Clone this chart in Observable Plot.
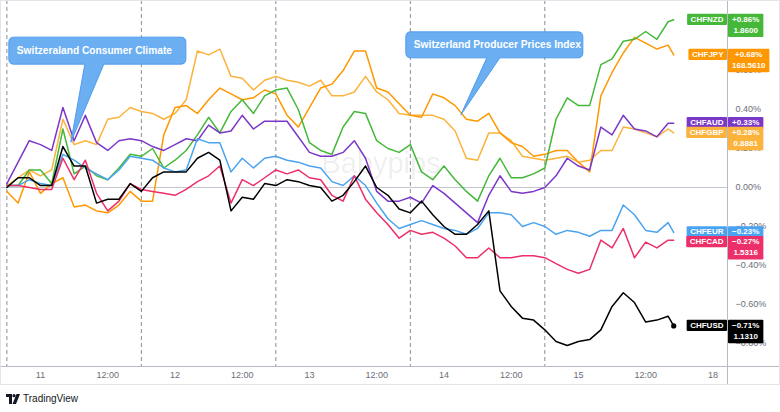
<!DOCTYPE html>
<html><head><meta charset="utf-8">
<script src="https://cdn.jsdelivr.net/npm/d3@7"></script>
<script src="https://cdn.jsdelivr.net/npm/@observablehq/plot@0.6"></script>
<style>
body{margin:0;background:#fff;font-family:"Liberation Sans",Arial,sans-serif;}
#chart{width:780px;height:385px;}
#footer{height:27px;display:flex;align-items:center;padding-left:6px;font-size:10px;color:#131722;}
#footer svg{margin-right:3px;}
</style></head><body>
<div id="chart"></div>
<div id="footer"><svg width="14" height="10" viewBox="0 0 14 10"><path d="M0 0h6v10H3V3H0z" fill="#131722"/><circle cx="8" cy="1.7" r="1.6" fill="#131722"/><path d="M10.5 0h3.5l-4 10H6.5z" fill="#131722"/></svg>TradingView</div>
<script>
// hours since 11th 00:00 (weekend compressed: "18" drawn at 120)
const hours = [-6,-4,-2,0,2,4,6,8,10,12,14,16,18,20,22,24,26,28,30,32,34,36,38,40,42,44,46,48,50,52,54,56,58,60,62,64,66,68,70,72,74,76,78,80,82,84,86,88,90,92,94,96,98,100,102,104,106,108,110,112,113];

const CHFGBP = [0.01,0.05,0.09,0.06,0.09,0.35,0.22,0.24,0.22,0.35,
 0.36,0.41,0.39,0.38,0.35,0.38,0.45,0.70,0.68,0.71,
 0.57,0.56,0.50,0.55,0.57,0.55,0.54,0.52,0.55,0.47,
 0.47,0.49,0.57,0.49,0.45,0.38,0.37,0.37,0.37,0.35,
 0.29,0.15,0.14,0.28,0.28,0.24,0.16,0.15,0.14,0.15,
 0.16,0.13,0.14,0.19,0.19,0.31,0.30,0.28,0.26,0.30,0.28];
const CHFJPY = [-0.02,-0.08,0.08,-0.03,0.02,0.05,-0.10,-0.09,-0.12,-0.13,
 -0.09,-0.02,-0.07,-0.07,0.27,0.41,0.42,0.38,0.45,0.51,
 0.48,0.45,0.46,0.50,0.48,0.37,0.31,0.41,0.51,0.53,
 0.60,0.70,0.70,0.51,0.49,0.43,0.37,0.36,0.48,0.46,
 0.42,0.35,0.34,0.38,0.28,0.23,0.21,0.16,0.17,0.19,
 0.19,0.13,0.08,0.47,0.59,0.69,0.77,0.74,0.71,0.73,0.68];
const CHFNZD = [0.01,0.01,0.09,0.09,0.02,0.30,0.07,0.11,0.06,0.04,
 0.10,0.17,0.16,0.20,0.10,0.14,0.19,0.27,0.36,0.28,
 0.39,0.45,0.38,0.47,0.50,0.51,0.40,0.23,0.19,0.17,
 0.31,0.39,0.38,0.24,0.20,0.18,0.22,0.08,0.04,0.11,
 0.04,-0.02,-0.07,0.06,0.15,0.05,0.05,0.07,0.10,0.35,
 0.46,0.42,0.42,0.63,0.66,0.75,0.76,0.80,0.76,0.85,0.86];
const CHFAUD = [0.02,0.13,0.24,0.22,0.19,0.41,0.24,0.37,0.23,0.19,
 0.24,0.25,0.24,0.21,0.19,0.22,0.25,0.24,0.32,0.28,
 0.29,0.37,0.30,0.34,0.34,0.34,0.26,0.18,0.16,0.16,
 0.18,0.24,0.15,-0.02,-0.07,-0.07,-0.05,-0.08,0.01,-0.03,
 -0.08,-0.13,-0.18,-0.04,0.06,-0.02,-0.03,-0.02,0.00,0.06,
 0.15,0.11,0.09,0.31,0.27,0.37,0.30,0.29,0.26,0.33,0.33];
const CHFEUR = [0.01,0.01,0.04,0.02,0.01,0.17,0.14,0.10,0.07,0.04,
 0.09,0.16,0.15,0.14,0.10,0.08,0.09,0.25,0.23,0.23,
 0.08,0.15,0.10,0.15,0.16,0.14,0.13,0.11,0.10,0.03,
 0.01,0.06,0.01,-0.08,-0.16,-0.21,-0.19,-0.17,-0.19,-0.21,
 -0.22,-0.24,-0.21,-0.13,-0.13,-0.14,-0.20,-0.18,-0.20,-0.24,
 -0.22,-0.23,-0.25,-0.22,-0.22,-0.09,-0.14,-0.22,-0.23,-0.18,-0.23];
const CHFCAD = [0.01,0.01,0.00,-0.01,-0.01,0.15,0.04,0.14,-0.03,-0.12,
 -0.07,0.02,-0.01,-0.02,-0.03,-0.04,-0.01,0.03,0.06,0.11,
 -0.08,0.04,0.01,0.05,0.09,0.07,0.09,0.05,0.04,-0.04,
 -0.07,0.06,-0.06,-0.13,-0.19,-0.26,-0.22,-0.24,-0.23,-0.26,
 -0.30,-0.36,-0.36,-0.31,-0.36,-0.36,-0.35,-0.35,-0.36,-0.39,
 -0.42,-0.44,-0.42,-0.27,-0.31,-0.21,-0.36,-0.28,-0.31,-0.27,-0.27];
const CHFUSD = [0.00,0.05,0.05,0.01,0.01,0.21,0.11,0.11,-0.08,-0.06,
 -0.06,0.02,-0.02,0.05,0.08,0.08,0.08,0.15,0.18,0.14,
 -0.12,-0.05,-0.06,0.02,0.01,0.04,0.03,0.01,0.00,-0.07,
 -0.04,0.03,0.11,0.00,-0.04,-0.11,-0.13,-0.07,-0.14,-0.20,
 -0.24,-0.24,-0.19,-0.12,-0.53,-0.61,-0.67,-0.68,-0.73,-0.79,
 -0.81,-0.79,-0.78,-0.73,-0.61,-0.54,-0.59,-0.69,-0.68,-0.66,-0.71];

const pairNames = ["CHFGBP","CHFJPY","CHFNZD","CHFAUD","CHFEUR","CHFCAD","CHFUSD"];
const pairValues = [CHFGBP,CHFJPY,CHFNZD,CHFAUD,CHFEUR,CHFCAD,CHFUSD];
const pairColors = ["#fbb33b","#ff9800","#45b83a","#7b38c8","#4aa3f0","#ec2f69","#000000"];
const lastPrices = ["0.8881","168.5610","1.8600",null,null,"1.5316","1.1310"];

const sessionBreaks = [-6,18,42,66,90];
const xTickHours = [0,12,24,36,48,60,72,84,96,108,120];
const xTickLabels = ["11","12:00","12","12:00","13","12:00","14","12:00","15","12:00","18"];
const yTicks = [-0.8,-0.6,-0.4,-0.2,0,0.2,0.4,0.6,0.8];

const events = [
  {text:"Switzeraland Consumer Climate", h:5.5, v:0.23},
  {text:"Switzerland Producer Prices Index", h:75.1, v:0.37}
];

const rows = [];
pairNames.forEach((p,k)=>pairValues[k].forEach((v,i)=>rows.push({pair:p,h:hours[i],v})));
const labelMap = new Map(xTickHours.map((h,i)=>[h,xTickLabels[i]]));
const fmtPct = d => (d < 0 ? "\u2212" : "") + Math.abs(d).toFixed(2) + "%";

const W = 780, H = 385, MR = 53, MB = 19;
const plot = Plot.plot({
  width: W, height: H,
  marginLeft: 0, marginRight: MR, marginTop: 0, marginBottom: MB,
  style: {fontFamily: "Liberation Sans, Arial, sans-serif", fontSize: "9px", color: "#6a6d78", background: "transparent"},
  x: {domain: [-7.14, 122.6], ticks: xTickHours, tickFormat: d => labelMap.get(d), tickSize: 0, tickPadding: 5, label: null},
  y: {domain: [-0.918, 0.959], axis: "right", ticks: yTicks, tickFormat: fmtPct, tickSize: 0, tickPadding: 8, label: null},
  color: {domain: pairNames, range: pairColors},
  marks: [
    Plot.text(["Babypips"], {frameAnchor: "middle", dx: 17, dy: -20, fontSize: 29, fill: "#000", fillOpacity: 0.07, fontWeight: "normal"}),
    Plot.ruleX(sessionBreaks, {stroke: "#8a8d96", strokeDasharray: "4,3", strokeWidth: 1}),
    Plot.ruleY([0], {stroke: "#c3c6ce", strokeWidth: 1}),
    Plot.line(rows, {x: "h", y: "v", z: "pair", stroke: "pair", strokeWidth: 1.5, strokeLinejoin: "round"}),
    Plot.dot([{h: hours[hours.length-1], v: CHFUSD[CHFUSD.length-1]}], {x: "h", y: "v", r: 2.6, fill: "#000", stroke: "none"})
  ]
});
document.getElementById("chart").appendChild(plot);

const svg = d3.select(plot);
const sxo = plot.scale("x"), syo = plot.scale("y");
const sx = d3.scaleLinear(sxo.domain, sxo.range);
const sy = d3.scaleLinear(syo.domain, syo.range);
const plotRight = W - MR, plotBottom = H - MB;

// frame lines
svg.append("line").attr("x1",0).attr("x2",W).attr("y1",plotBottom+0.5).attr("y2",plotBottom+0.5).attr("stroke","#b8bbc3");
svg.append("line").attr("x1",plotRight+0.5).attr("x2",plotRight+0.5).attr("y1",0).attr("y2",H).attr("stroke","#b8bbc3");
svg.append("rect").attr("x",0.5).attr("y",0.5).attr("width",W-1).attr("height",H-1).attr("fill","none").attr("stroke","#e3e5ea");

// callouts
function calloutPath(x,y,w,h,r,b1,b2,tx,ty){
  return `M${x+r},${y}H${x+w-r}Q${x+w},${y} ${x+w},${y+r}V${y+h-r}Q${x+w},${y+h} ${x+w-r},${y+h}H${b2}L${tx},${ty}L${b1},${y+h}H${x+r}Q${x},${y+h} ${x},${y+h-r}V${y+r}Q${x},${y} ${x+r},${y}Z`;
}
const calloutGeom = [
  {dx:-62, dy:-105, w:177, h:27, b1:14, b2:33},
  {dx:-55, dy:-83, w:177, h:26, b1:26, b2:39}
];
events.forEach((e,i)=>{
  const tx = sx(e.h), ty = sy(e.v), g = calloutGeom[i];
  const bx = tx + g.dx, by = ty + g.dy;
  svg.append("path").attr("d", calloutPath(bx,by,g.w,g.h,5,tx+g.b1,tx+g.b2,tx,ty))
    .attr("fill","#66acf2").attr("stroke","#4e9cec").attr("stroke-width",1).attr("fill-opacity",0.97);
  svg.append("text").attr("x",bx+8).attr("y",by+g.h/2+3.6).text(e.text)
    .attr("text-anchor","start")
    .attr("fill","#fff").attr("font-size","10.2px").attr("font-weight","600")
    .attr("font-family","Liberation Sans, Arial, sans-serif");
});

// last-value labels
const labels = pairNames.map((p,k)=>{
  const vals = pairValues[k], last = vals[vals.length-1];
  return {name:p, color:pairColors[k], last, price:lastPrices[k], y:sy(last)};
}).sort((a,b)=>a.y-b.y);
let prevTop = -100;
const LH = 11.2, STEP = 9.8;
labels.forEach(l=>{
  let top = Math.max(l.y - 5.6, prevTop + STEP);
  prevTop = top;
  const g = svg.append("g").attr("font-family","Liberation Sans, Arial, sans-serif").attr("font-size","8px").attr("font-weight","600");
  const txtColor = "#fff";
  const nt = g.append("text").text(l.name).attr("fill",txtColor).attr("text-anchor","middle");
  const nw = nt.node().getComputedTextLength() + 7;
  g.insert("rect","text").attr("x",plotRight - nw).attr("y",top).attr("width",nw).attr("height",LH).attr("fill",l.color).attr("rx",1);
  nt.attr("x",plotRight - nw/2).attr("y",top+8.1);
  const lines = [(l.last>=0?"+":"\u2212")+Math.abs(l.last).toFixed(2)+"%"];
  if (l.price) lines.push(l.price);
  const vg = g.append("g");
  const vts = lines.map((s,j)=>vg.append("text").text(s).attr("fill",txtColor).attr("text-anchor","middle").attr("y",top+8.1+j*LH));
  const vw = d3.max(vts, t=>t.node().getComputedTextLength()) + 8;
  vg.insert("rect","text").attr("x",plotRight+1).attr("y",top).attr("width",vw).attr("height",LH*lines.length+1).attr("fill",l.color).attr("rx",1);
  vts.forEach(t=>t.attr("x",plotRight+1+vw/2));
});
</script>
</body></html>
